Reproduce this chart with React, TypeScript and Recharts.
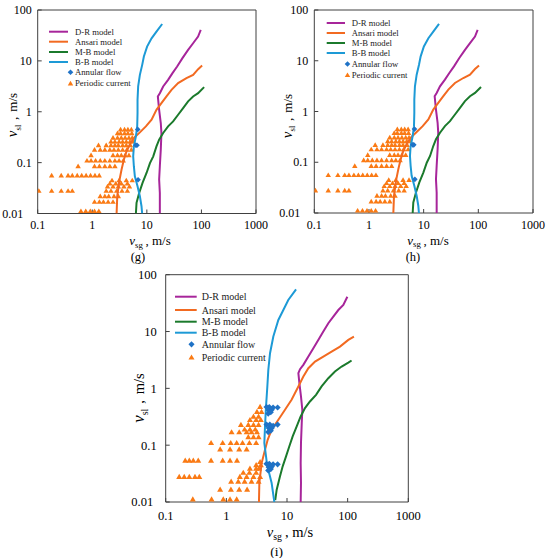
import React from 'react';
import { ScatterChart, Scatter, XAxis, YAxis, ReferenceArea } from 'recharts';

type P = [number, number];
type Row = [number, number[]];

const X_TICKS = [0.1, 1, 10, 100, 1000];
const Y_TICKS = [0.01, 0.1, 1, 10, 100];
const LEGEND_LABELS = ['D-R model', 'Ansari model', 'M-B model', 'B-B model', 'Annular flow', 'Periodic current'];
const PANEL_LABELS = ['(g)', '(h)', '(i)'];

// ---- panels (g) and (h) ----
const DR_GH: P[] = [[17.3, 0.01], [17.3, 0.0254], [16.8, 0.0465], [17.3, 0.085], [18.0, 0.18], [18.5, 0.38], [18.0, 0.6], [16.8, 1.09], [15.9, 2.0], [17.3, 2.32], [19.9, 3.14], [24.5, 4.24], [29.5, 5.73], [35.9, 7.74], [44.9, 11.3], [57, 16.4], [70.4, 22.2], [86.9, 30], [97.2, 40.5]];
const ANS_GH: P[] = [[2.79, 0.01], [2.87, 0.022], [3.12, 0.043], [3.44, 0.073], [3.8, 0.115], [4.25, 0.167], [5.02, 0.243], [6.03, 0.319], [7.45, 0.393], [9.6, 0.515], [12.2, 0.7], [15, 1.09], [18.5, 1.48], [22.9, 2.0], [28.3, 2.7], [37.4, 3.65], [53.2, 4.57], [70.4, 5.31], [87, 6.87], [103, 8.09]];
const MB_GH: P[] = [[6.3, 0.01], [6.47, 0.0162], [7.24, 0.0254], [8.34, 0.04], [9.87, 0.0626], [11.4, 0.098], [13.1, 0.133], [15, 0.209], [16.8, 0.283], [19.9, 0.382], [24.5, 0.515], [30.3, 0.646], [37.4, 0.873], [46.2, 1.18], [57, 1.6], [70.4, 2.0], [87, 2.32], [112, 3.05]];
const BB_GH: P[] = [[8.2, 0.01], [7.98, 0.0139], [7.45, 0.0219], [6.75, 0.0344], [6.03, 0.054], [5.78, 0.085], [5.62, 0.133], [5.78, 0.209], [6.3, 0.328], [6.66, 0.515], [6.75, 0.94], [6.75, 1.72], [6.93, 3.14], [7.45, 5.31], [8.22, 8.35], [8.82, 12.2], [10.1, 19.1], [12.2, 27.8], [15, 37.6], [19.1, 53.1]];
const ANN_GH: P[] = [[6.8, 0.45], [6.3, 0.22], [6.6, 0.22], [6.9, 0.046]];
const PER_GH: Row[] = [
  [0.45, [3.3, 3.9, 4.5, 5.2]],
  [0.38, [2.9, 3.3, 3.9, 4.5, 5.3]],
  [0.31, [2.4, 2.9, 3.4, 4.0, 4.7, 5.4]],
  [0.26, [2.2, 2.6, 3.1, 3.6, 4.2, 4.9, 5.6]],
  [0.22, [1.3, 1.8, 2.2, 2.6, 3.0, 3.6, 4.2, 5.0]],
  [0.18, [1.1, 1.4, 1.7, 2.1, 2.5, 3.0, 3.6, 4.3, 5.2]],
  [0.14, [0.95, 2.4, 2.9, 3.4, 4.0, 4.7]],
  [0.11, [0.8, 0.95, 1.15, 1.4, 1.7, 2.1, 2.6, 3.1, 3.7]],
  [0.085, [0.55, 1.1, 1.35, 1.7, 2.1, 2.6]],
  [0.056, [0.18, 0.27, 0.36, 0.43, 0.53, 0.64, 0.77, 0.93, 1.12, 1.34]],
  [0.045, [2.3, 3.1, 4.2, 5.4]],
  [0.039, [2.1, 2.7, 3.4, 4.4]],
  [0.034, [1.9, 2.4, 3.0, 3.8, 4.8]],
  [0.028, [0.105, 0.18, 0.27, 0.36, 0.43, 1.8, 2.2, 2.8, 3.5, 4.4]],
  [0.022, [1.4, 1.7, 2.0, 2.5, 3.0]],
  [0.017, [1.1, 1.35, 1.6, 1.95, 2.4]],
  [0.0112, [0.62, 0.76, 0.92, 1.1, 1.32]],
];

// ---- panel (i) ----
const DR_I: P[] = [[16.8, 0.01], [17, 0.0216], [16.8, 0.0484], [17, 0.109], [17.5, 0.244], [17.9, 0.419], [17, 0.72], [16, 1.23], [15.4, 1.85], [16.4, 2.17], [18.6, 2.59], [22.5, 3.63], [27.2, 5.08], [32.8, 7.11], [39.7, 9.98], [48, 14], [58, 18.3], [70.2, 23.9], [84.9, 29.3], [98.9, 41]];
const ANS_I: P[] = [[3.45, 0.01], [3.5, 0.0216], [3.82, 0.0484], [4.34, 0.083], [4.8, 0.124], [5.58, 0.187], [7.2, 0.28], [9.27, 0.419], [11.9, 0.63], [15.4, 1.08], [18.6, 1.61], [22.5, 2.26], [29, 2.96], [39.7, 3.62], [54.4, 4.43], [74.8, 5.43], [102.6, 7.11], [127, 8.15]];
const MB_I: P[] = [[6.4, 0.0108], [6.76, 0.0165], [7.67, 0.0283], [8.49, 0.0424], [9.64, 0.0634], [10.9, 0.095], [12.4, 0.143], [14.4, 0.213], [16.8, 0.32], [19.8, 0.449], [23.9, 0.588], [30.1, 0.769], [37.2, 1.08], [48, 1.51], [61.8, 1.98], [79.6, 2.42], [102.6, 2.84], [116, 3.09]];
const BB_I: P[] = [[6.18, 0.01], [5.58, 0.0216], [4.92, 0.037], [4.62, 0.0518], [4.23, 0.109], [4.34, 0.213], [4.51, 0.48], [4.74, 1.08], [4.92, 2.11], [5.25, 4.15], [5.95, 8.15], [7.2, 16], [8.7, 23.9], [10.5, 35.9], [14.1, 55.2]];
const ANN_I: P[] = [
  [4.6, 0.47], [5.1, 0.47], [5.9, 0.46], [7.0, 0.46], [5.0, 0.41], [5.6, 0.42], [4.9, 0.36], [5.4, 0.38],
  [4.6, 0.23], [5.2, 0.23], [5.9, 0.22], [7.0, 0.23], [5.0, 0.2], [5.6, 0.2], [4.9, 0.17], [5.4, 0.18],
  [4.6, 0.047], [5.1, 0.047], [5.9, 0.046], [7.0, 0.046], [5.0, 0.041], [5.6, 0.042], [4.9, 0.036], [5.4, 0.038],
];
const PER_I: Row[] = [
  [0.476, [3.6]],
  [0.39, [3.2, 3.8]],
  [0.32, [2.8, 3.4]],
  [0.28, [2.45, 3.1, 3.7]],
  [0.23, [1.74, 2.3, 2.8, 3.4]],
  [0.19, [2.0, 2.45, 3.0]],
  [0.17, [1.22, 1.63, 2.16, 2.6, 3.2]],
  [0.14, [2.3, 2.8, 3.4]],
  [0.11, [0.56, 0.87, 1.18, 1.48, 1.85, 2.4, 3.1]],
  [0.085, [0.79, 1.15, 1.63, 2.16]],
  [0.054, [0.21, 0.245, 0.285, 0.344, 0.56, 0.87, 1.15, 1.5]],
  [0.051, [3.6]],
  [0.045, [3.1, 3.7]],
  [0.039, [2.45, 3.1, 3.45]],
  [0.033, [1.9, 2.4, 3.1]],
  [0.028, [0.167, 0.202, 0.245, 0.304, 0.358, 1.67, 2.16, 2.8, 3.6]],
  [0.023, [1.2, 1.57, 2.0, 2.6, 3.4]],
  [0.0167, [0.79, 1.19, 1.63, 2.2]],
  [0.0112, [0.28, 0.57, 0.89, 1.15, 1.48]],
];

const C = {
  dr: '#A7259A',
  ans: '#F26A21',
  mb: '#1B7A2C',
  bb: '#1D9AD6',
  ann: '#1F72C6',
  tri: '#FA7A14',
  axis: '#404040',
};
const FONT = "'Liberation Serif', serif";

const pts = (a: P[]) => a.map(([x, y]) => ({ x, y }));
const rows = (r: Row[]) => r.flatMap(([y, xs]) => xs.map((x) => ({ x, y })));

const triPath = (cx: number, cy: number, s: number) =>
  `${cx},${cy - s} ${cx - s * 1.05},${cy + s * 0.8} ${cx + s * 1.05},${cy + s * 0.8}`;
const diaPath = (cx: number, cy: number, s: number) =>
  `${cx},${cy - s} ${cx + s},${cy} ${cx},${cy + s} ${cx - s},${cy}`;

const noShape = () => <g />;

interface PanelCfg {
  box: { left: number; top: number; width: number; height: number };
  plot: { left: number; right: number; top: number; bottom: number };
  dr: P[]; ans: P[]; mb: P[]; bb: P[]; ann: P[]; per: Row[];
  tickFs: number; xTickMargin: number; yTickMargin: number; lowShift: number; mk: number;
}

function Panel({ cfg }: { cfg: PanelCfg }) {
  const { box, plot, mk } = cfg;
  const axisW = plot.left - box.left;
  const axisH = box.top + box.height - plot.bottom;
  const margin = {
    top: plot.top - box.top,
    left: 0,
    right: box.left + box.width - plot.right,
    bottom: 0,
  };
  const xTick = (props: any) => (
    <text x={props.x} y={props.y} dy="0.71em" textAnchor="middle" fontSize={cfg.tickFs} style={{ fontFamily: FONT }} fill="#000">
      {String(props.payload.value)}
    </text>
  );
  const yTick = (props: any) => {
    const v = props.payload.value;
    return (
      <text x={props.x + (v === 0.01 ? cfg.lowShift : 0)} y={props.y} dy="0.35em" textAnchor="end" fontSize={cfg.tickFs} style={{ fontFamily: FONT }} fill="#000">
        {String(v)}
      </text>
    );
  };
  const triShape = (p: any) => <polygon points={triPath(p.cx, p.cy, 2.6 * mk)} fill={C.tri} />;
  const diaShape = (p: any) => <polygon points={diaPath(p.cx, p.cy, 2.8 * mk)} fill={C.ann} />;
  const lineSeries: [P[], string][] = [[cfg.dr, C.dr], [cfg.ans, C.ans], [cfg.mb, C.mb], [cfg.bb, C.bb]];
  return (
    <div style={{ position: 'absolute', left: box.left, top: box.top, width: box.width, height: box.height }}>
      <ScatterChart width={box.width} height={box.height} margin={margin}>
        <XAxis
          type="number" dataKey="x" scale="log" domain={[0.1, 1000]} ticks={X_TICKS} interval={0}
          allowDataOverflow height={axisH} axisLine={false} tickLine={{ stroke: C.axis }} tickSize={-4}
          tickMargin={cfg.xTickMargin} tick={xTick}
        />
        <YAxis
          type="number" dataKey="y" scale="log" domain={[0.01, 100]} ticks={Y_TICKS} interval={0}
          allowDataOverflow width={axisW} axisLine={false} tickLine={{ stroke: C.axis }} tickSize={-4}
          tickMargin={cfg.yTickMargin} tick={yTick}
        />
        <ReferenceArea x1={0.1} x2={1000} y1={0.01} y2={100} fill="none" stroke={C.axis} strokeWidth={1} ifOverflow="visible" />
        <Scatter data={rows(cfg.per)} shape={triShape} isAnimationActive={false} />
        {lineSeries.map(([d, col], i) => (
          <Scatter key={i} data={pts(d)} line={{ stroke: col, strokeWidth: 2 }} lineType="joint" shape={noShape} isAnimationActive={false} />
        ))}
        <Scatter data={pts(cfg.ann)} shape={diaShape} isAnimationActive={false} />
      </ScatterChart>
    </div>
  );
}

const PANELS: PanelCfg[] = [
  {
    box: { left: 0, top: 0, width: 275, height: 262 },
    plot: { left: 37.7, right: 256, top: 10, bottom: 213.5 },
    dr: DR_GH, ans: ANS_GH, mb: MB_GH, bb: BB_GH, ann: ANN_GH, per: PER_GH,
    tickFs: 12, xTickMargin: 11, yTickMargin: 10, lowShift: -8.5, mk: 1,
  },
  {
    box: { left: 275, top: 0, width: 275, height: 262 },
    plot: { left: 314.3, right: 533, top: 10, bottom: 213 },
    dr: DR_GH, ans: ANS_GH, mb: MB_GH, bb: BB_GH, ann: ANN_GH, per: PER_GH,
    tickFs: 12, xTickMargin: 11, yTickMargin: 10, lowShift: -8, mk: 1,
  },
  {
    box: { left: 130, top: 265, width: 300, height: 293 },
    plot: { left: 165.7, right: 408.3, top: 274.7, bottom: 502 },
    dr: DR_I, ans: ANS_I, mb: MB_I, bb: BB_I, ann: ANN_I, per: PER_I,
    tickFs: 12.5, xTickMargin: 13, yTickMargin: 13, lowShift: -3.5, mk: 1.1,
  },
];

interface Deco {
  lineX: [number, number]; markX: number; textX: number; rows: number[]; legFs: number; mk: number;
  xT: [number, number]; cap: [number, number]; yT: [number, number]; titleFs: number; capFs: number;
}

const DECOS: Deco[] = [
  { lineX: [49, 68], markX: 70.5, textX: 75, rows: [31.7, 41.7, 52, 62, 72.3, 83.3], legFs: 8.7, mk: 1, xT: [150, 245], cap: [138, 260.5], yT: [12.5, 115], titleFs: 13, capFs: 12.5 },
  { lineX: [326.7, 345], markX: 347.5, textX: 351.7, rows: [23, 33, 43, 53, 64, 75], legFs: 8.7, mk: 1, xT: [428, 244.5], cap: [413, 260.5], yT: [287, 116], titleFs: 13, capFs: 12.5 },
  { lineX: [175, 196.7], markX: 191.5, textX: 201.7, rows: [296.7, 310, 321.7, 332.7, 344.3, 357.3], legFs: 10, mk: 1.1, xT: [290, 537], cap: [276.7, 555.5], yT: [139, 398], titleFs: 14.5, capFs: 13.5 },
];

function Overlay() {
  const lineCols = [C.dr, C.ans, C.mb, C.bb];
  return (
    <svg width={550} height={558} style={{ position: 'absolute', left: 0, top: 0, pointerEvents: 'none', fontFamily: FONT }}>
      {DECOS.map((d, k) => (
        <g key={k}>
          {LEGEND_LABELS.map((lab, i) => (
            <g key={i}>
              {i < 4 && <line x1={d.lineX[0]} x2={d.lineX[1]} y1={d.rows[i]} y2={d.rows[i]} stroke={lineCols[i]} strokeWidth={2} />}
              {i === 4 && <polygon points={diaPath(d.markX, d.rows[i], 2.8 * d.mk)} fill={C.ann} />}
              {i === 5 && <polygon points={triPath(d.markX, d.rows[i], 2.6 * d.mk)} fill={C.tri} />}
              <text x={d.textX} y={d.rows[i]} dy="0.35em" fontSize={d.legFs} fill="#222">{lab}</text>
            </g>
          ))}
          <text x={d.xT[0]} y={d.xT[1]} textAnchor="middle" fontSize={d.titleFs} fill="#000">
            <tspan fontStyle="italic">v</tspan>
            <tspan fontSize={d.titleFs * 0.68} dy={d.titleFs * 0.22}>sg</tspan>
            <tspan dy={-d.titleFs * 0.22} dx={d.titleFs * 0.2}>,</tspan>
            <tspan dx={d.titleFs * 0.25}>m/s</tspan>
          </text>
          <text x={d.cap[0]} y={d.cap[1]} textAnchor="middle" fontSize={d.capFs} fill="#000">{PANEL_LABELS[k]}</text>
          <text transform={`translate(${d.yT[0]},${d.yT[1]}) rotate(-90)`} textAnchor="middle" dy="0.35em" fontSize={d.titleFs} fill="#000">
            <tspan fontStyle="italic" fontSize={d.titleFs * 1.15}>v</tspan>
            <tspan fontSize={d.titleFs * 0.68} dy={d.titleFs * 0.28}>sl</tspan>
            <tspan dy={-d.titleFs * 0.28} dx={d.titleFs * 0.35}>,</tspan>
            <tspan dx={d.titleFs * 0.4}>m/s</tspan>
          </text>
        </g>
      ))}
    </svg>
  );
}

export default function App() {
  return (
    <div style={{ position: 'fixed', left: 0, top: 0, width: 550, height: 558, background: '#fff', overflow: 'hidden' }}>
      {PANELS.map((p, i) => (
        <Panel key={i} cfg={p} />
      ))}
      <Overlay />
    </div>
  );
}
